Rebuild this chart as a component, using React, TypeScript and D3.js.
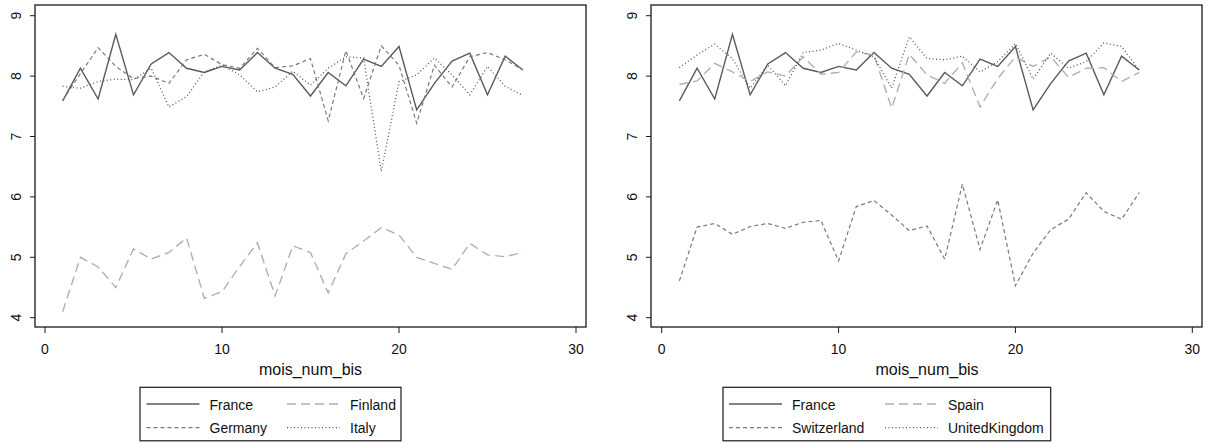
import React from "react";
import * as d3 from "d3";

const months = d3.range(1, 28);

const france = [7.59, 8.13, 7.62, 8.69, 7.69, 8.2, 8.39, 8.13, 8.06, 8.16, 8.1, 8.39, 8.13, 8.03, 7.67, 8.06, 7.84, 8.28, 8.16, 8.49, 7.44, 7.88, 8.25, 8.38, 7.69, 8.33, 8.1];
const finland = [4.1, 5.0, 4.84, 4.5, 5.14, 4.97, 5.08, 5.32, 4.32, 4.43, 4.85, 5.24, 4.36, 5.19, 5.08, 4.41, 5.06, 5.27, 5.49, 5.37, 5.0, 4.9, 4.8, 5.23, 5.04, 5.01, 5.08];
const germany = [7.6, 8.04, 8.47, 8.16, 7.96, 8.0, 7.88, 8.27, 8.36, 8.19, 8.13, 8.46, 8.14, 8.17, 8.29, 7.26, 8.42, 7.63, 8.5, 8.18, 7.22, 8.18, 7.82, 8.32, 8.39, 8.27, 8.1];
const italy = [7.83, 7.8, 7.91, 7.95, 7.94, 8.13, 7.49, 7.66, 8.07, 8.18, 8.02, 7.74, 7.82, 8.08, 7.85, 8.13, 8.32, 8.3, 6.42, 7.91, 8.02, 8.3, 8.02, 7.69, 8.16, 7.83, 7.68];
const spain = [7.86, 7.92, 8.21, 8.07, 7.91, 8.07, 8.0, 8.32, 8.03, 8.06, 8.4, 8.35, 7.47, 8.36, 8.02, 7.88, 8.22, 7.49, 7.96, 8.32, 8.16, 8.32, 7.98, 8.13, 8.14, 7.91, 8.06];
const switzerland = [4.61, 5.5, 5.56, 5.38, 5.51, 5.56, 5.48, 5.58, 5.61, 4.94, 5.84, 5.94, 5.7, 5.44, 5.52, 4.97, 6.21, 5.13, 5.95, 4.53, 5.07, 5.46, 5.63, 6.07, 5.76, 5.63, 6.07];
const uk = [8.14, 8.35, 8.53, 8.29, 7.8, 8.18, 7.84, 8.39, 8.43, 8.54, 8.43, 8.32, 7.8, 8.65, 8.29, 8.27, 8.33, 8.07, 8.24, 8.54, 7.95, 8.38, 8.13, 8.24, 8.55, 8.49, 8.1];

const xTicks = [0, 10, 20, 30];
const yTicks = [4, 5, 6, 7, 8, 9];
const xTitle = "mois_num_bis";

type Style = { color: string; dash: string; width: number };
const styles: Style[] = [
  { color: "#5a5a5a", dash: "none", width: 1.4 },
  { color: "#b0b0b0", dash: "9,5", width: 1.4 },
  { color: "#7a7a7a", dash: "4,3", width: 1.2 },
  { color: "#555555", dash: "1,2.5", width: 1.3 },
];

const leftSeries = [
  { name: "France", values: france },
  { name: "Finland", values: finland },
  { name: "Germany", values: germany },
  { name: "Italy", values: italy },
];
const rightSeries = [
  { name: "France", values: france },
  { name: "Spain", values: spain },
  { name: "Switzerland", values: switzerland },
  { name: "UnitedKingdom", values: uk },
];

const FONT = "'Liberation Sans', Arial, sans-serif";

function Panel({ series, frame, xRange, legend }: any) {
  const x = d3.scaleLinear().domain([0, 30]).range(xRange);
  const y = d3.scaleLinear().domain([4, 9]).range([317.7, 15.7]);
  const line = d3
    .line<number>()
    .x((_, i) => x(months[i]))
    .y((v) => y(v));
  const midX = (xRange[0] + xRange[1]) / 2;
  return (
    <g>
      {series.map((s: any, i: number) => {
        const st = styles[i];
        return (
          <path
            key={s.name}
            d={line(s.values) || ""}
            fill="none"
            stroke={st.color}
            strokeWidth={st.width}
            strokeDasharray={st.dash}
            strokeLinejoin="miter"
          />
        );
      })}
      <rect
        x={frame.left}
        y={frame.top}
        width={frame.right - frame.left}
        height={frame.bottom - frame.top}
        fill="none"
        stroke="#1a1a1a"
        strokeWidth={1.3}
      />
      {yTicks.map((t) => (
        <g key={"y" + t}>
          <line x1={frame.left - 5} x2={frame.left} y1={y(t)} y2={y(t)} stroke="#1a1a1a" strokeWidth={1} />
          <text
            transform={`translate(${frame.left - 14},${y(t)}) rotate(-90)`}
            textAnchor="middle"
            fontSize={14}
            fontFamily={FONT}
            fill="#111"
          >
            {t}
          </text>
        </g>
      ))}
      {xTicks.map((t) => (
        <g key={"x" + t}>
          <line x1={x(t)} x2={x(t)} y1={frame.bottom} y2={frame.bottom + 6} stroke="#1a1a1a" strokeWidth={1} />
          <text x={x(t)} y={353.5} textAnchor="middle" fontSize={14} fontFamily={FONT} fill="#111">
            {t}
          </text>
        </g>
      ))}
      <text x={midX} y={374.5} textAnchor="middle" fontSize={16} fontFamily={FONT} fill="#111">
        {xTitle}
      </text>
      <rect
        x={legend.left}
        y={387.3}
        width={legend.right - legend.left}
        height={53.5}
        fill="white"
        stroke="#1a1a1a"
        strokeWidth={1.2}
      />
      {series.map((s: any, i: number) => {
        const st = styles[i];
        const col = i % 2;
        const row = Math.floor(i / 2);
        const lx = legend.cols[col];
        const ly = row === 0 ? 404 : 427.7;
        return (
          <g key={"lg" + s.name}>
            <line
              x1={lx}
              x2={lx + 53}
              y1={ly}
              y2={ly}
              stroke={st.color}
              strokeWidth={st.width}
              strokeDasharray={st.dash}
            />
            <text x={lx + 63} y={ly + 5.5} fontSize={14} fontFamily={FONT} fill="#111">
              {s.name}
            </text>
          </g>
        );
      })}
    </g>
  );
}

export default function App() {
  return (
    <svg
      width={1208}
      height={444}
      style={{ position: "absolute", left: 0, top: 0, background: "white", display: "block" }}
    >
      <rect x={0} y={0} width={1208} height={444} fill="white" />
      <Panel
        series={leftSeries}
        frame={{ left: 35, right: 586, top: 5, bottom: 327 }}
        xRange={[45, 576]}
        legend={{ left: 140, right: 401, cols: [146.5, 287] }}
      />
      <Panel
        series={rightSeries}
        frame={{ left: 651, right: 1202, top: 5, bottom: 327 }}
        xRange={[661.7, 1192.3]}
        legend={{ left: 723, right: 1050.7, cols: [729, 885] }}
      />
    </svg>
  );
}
